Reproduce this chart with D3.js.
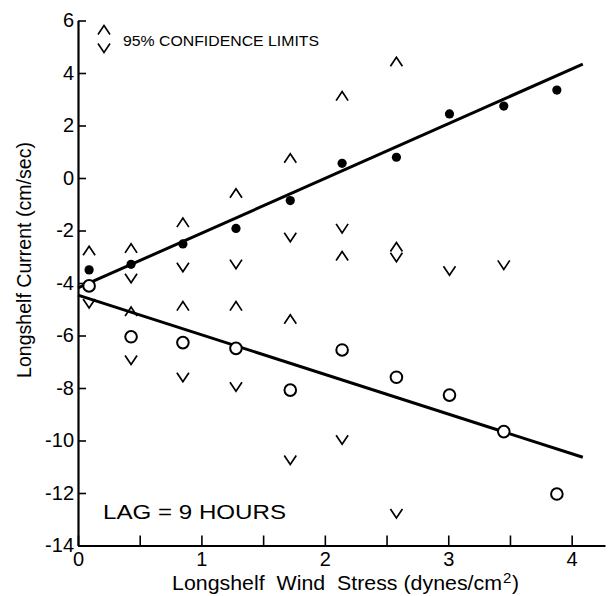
<!DOCTYPE html>
<html>
<head>
<meta charset="utf-8">
<script src="https://cdn.jsdelivr.net/npm/d3@7"></script>
<style>
  body { margin: 0; background: #fff; }
  text { font-family: "Liberation Sans Narrow", "Liberation Sans", Arial, sans-serif; fill: #000; }
</style>
</head>
<body>
<div id="container"></div>
<script>
var w = 608
var h = 596

// wind stress bins (dynes/cm2)
var stress = [0.09, 0.43, 0.85, 1.28, 1.72, 2.14, 2.58, 3.01, 3.45, 3.88]
// filled dots and open circles (cm/sec)
var filledVals = [-3.5, -3.29, -2.51, -1.92, -0.86, 0.56, 0.79, 2.44, 2.74, 3.35]
var openVals = [-4.11, -6.05, -6.27, -6.49, -8.08, -6.55, -7.59, -8.27, -9.66, -12.04]

// 95% confidence limit markers: [stress, current]
var upperMarks = [[0.09, -2.77], [0.43, -2.68], [0.85, -1.70], [1.28, -0.58], [1.72, 0.75],
  [2.14, 3.12], [2.58, 4.43], [0.43, -5.09], [0.85, -4.88], [1.28, -4.88], [1.72, -5.38],
  [2.14, -2.97], [2.58, -2.63]]
var lowerMarks = [[0.09, -4.78], [0.43, -3.82], [0.85, -3.40], [1.28, -3.28], [1.72, -2.26],
  [2.14, -1.92], [2.58, -3.02], [3.01, -3.53], [3.45, -3.31], [0.43, -6.93], [0.85, -7.59],
  [1.28, -7.95], [1.72, -10.74], [2.14, -9.97], [2.58, -12.78]]

// regression lines: end points
var fitX = [0, 4.09]
var fitFilled = [-4.19, 4.34]
var fitOpen = [-4.46, -10.64]

var xTicks = [0, 0.5, 1, 1.5, 2, 2.5, 3, 3.5, 4]
var yTicks = [-14, -12, -10, -8, -6, -4, -2, 0, 2, 4, 6]

var svg = d3.select("#container").append("svg")
    .attr("width", w)
    .attr("height", h)
    .style("background-color", "#fff")

var x = d3.scaleLinear().domain([0, 4.27]).range([78, 605])
var y = d3.scaleLinear().domain([-14, 6]).range([545.5, 20.5])

// axes
var yAxis = svg.append("g")
    .attr("transform", "translate(78,0)")
    .call(d3.axisLeft(y).tickValues(yTicks).tickSizeInner(-8).tickSizeOuter(0)
        .tickPadding(4).tickFormat(function (d) { return String(d) }))
yAxis.select(".domain").attr("stroke-width", 2.2)
yAxis.selectAll(".tick line").attr("stroke-width", 1.6)
yAxis.selectAll("text").attr("font-size", 20)

var xAxis = svg.append("g")
    .attr("transform", "translate(0,545.5)")
    .call(d3.axisBottom(x).tickValues(xTicks).tickSizeInner(-10).tickSizeOuter(0)
        .tickPadding(6).tickFormat(function (d) { return d % 1 === 0 ? String(d) : "" }))
xAxis.select(".domain").attr("stroke-width", 2.2)
xAxis.selectAll(".tick line").attr("stroke-width", 1.6)
xAxis.selectAll("text").attr("font-size", 20)

// regression lines
var line = d3.line()
    .x(function (d) { return x(d[0]) })
    .y(function (d) { return y(d[1]) })

svg.append("path")
    .datum(fitX.map(function (v, i) { return [v, fitFilled[i]] }))
    .attr("d", line).attr("fill", "none").attr("stroke", "#000").attr("stroke-width", 3)
svg.append("path")
    .datum(fitX.map(function (v, i) { return [v, fitOpen[i]] }))
    .attr("d", line).attr("fill", "none").attr("stroke", "#000").attr("stroke-width", 3)

// chevron markers
function chevron(up) {
    var s = up ? -1 : 1
    return "M-6," + (-4.5 * s) + "L0," + (4.5 * s) + "L6," + (-4.5 * s)
}

svg.selectAll(".up")
    .data(upperMarks)
    .enter()
    .append("path")
    .attr("class", "up")
    .attr("transform", function (d) { return "translate(" + x(d[0]) + "," + y(d[1]) + ")" })
    .attr("d", chevron(true))
    .attr("fill", "none").attr("stroke", "#000").attr("stroke-width", 1.7)

svg.selectAll(".down")
    .data(lowerMarks)
    .enter()
    .append("path")
    .attr("class", "down")
    .attr("transform", function (d) { return "translate(" + x(d[0]) + "," + y(d[1]) + ")" })
    .attr("d", chevron(false))
    .attr("fill", "none").attr("stroke", "#000").attr("stroke-width", 1.7)

// open circles
svg.selectAll(".open")
    .data(stress)
    .enter()
    .append("circle")
    .attr("class", "open")
    .attr("cx", function (d) { return x(d) })
    .attr("cy", function (d, i) { return y(openVals[i]) })
    .attr("r", 5.8)
    .attr("fill", "#fff").attr("stroke", "#000").attr("stroke-width", 2)

// filled dots
svg.selectAll(".filled")
    .data(stress)
    .enter()
    .append("circle")
    .attr("class", "filled")
    .attr("cx", function (d) { return x(d) })
    .attr("cy", function (d, i) { return y(filledVals[i]) })
    .attr("r", 4.6)
    .attr("fill", "#000")

// legend
svg.append("path").attr("transform", "translate(104,30)").attr("d", chevron(true))
    .attr("fill", "none").attr("stroke", "#000").attr("stroke-width", 1.6)
svg.append("path").attr("transform", "translate(104,48)").attr("d", chevron(false))
    .attr("fill", "none").attr("stroke", "#000").attr("stroke-width", 1.6)
svg.append("text").attr("x", 123).attr("y", 46).attr("font-size", 15)
    .attr("textLength", 196).attr("lengthAdjust", "spacingAndGlyphs")
    .text("95% CONFIDENCE LIMITS")

svg.append("text").attr("x", 103).attr("y", 519).attr("font-size", 20)
    .attr("textLength", 183).attr("lengthAdjust", "spacingAndGlyphs")
    .text("LAG = 9 HOURS")

// axis titles
svg.append("text").attr("x", 172).attr("y", 590).attr("font-size", 21)
    .attr("textLength", 330).attr("lengthAdjust", "spacingAndGlyphs")
    .attr("xml:space", "preserve")
    .text("Longshelf  Wind  Stress (dynes/cm")
svg.append("text").attr("x", 503).attr("y", 583).attr("font-size", 15).text("2")
svg.append("text").attr("x", 512).attr("y", 590).attr("font-size", 21).text(")")

svg.append("text")
    .attr("transform", "translate(31,378) rotate(-90)")
    .attr("font-size", 21)
    .attr("textLength", 236).attr("lengthAdjust", "spacingAndGlyphs")
    .text("Longshelf  Current  (cm/sec)")
</script>
</body>
</html>
